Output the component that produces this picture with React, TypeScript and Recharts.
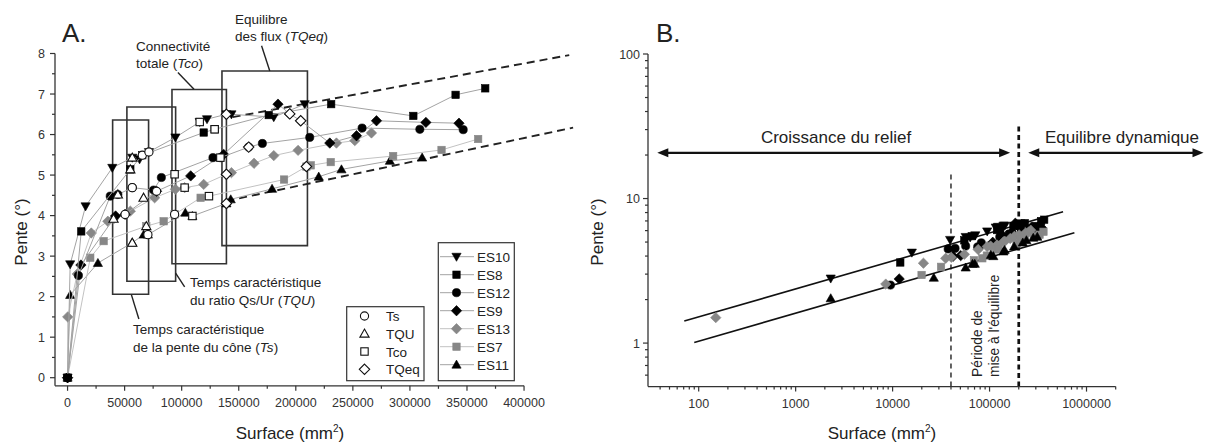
import React from 'react';
import { ComposedChart, Scatter, XAxis, YAxis, ReferenceLine, ReferenceArea } from 'recharts';

type Pair = [number, number];

const es10: Pair[] = [[0, 0], [2300, 2.8], [15800, 4.23], [39200, 5.18], [56700, 5.43], [63100, 5.39], [71300, 5.57], [94500, 5.93], [115800, 6.31], [122200, 6.38], [139200, 6.5], [143600, 6.5], [180700, 6.43], [207800, 6.75]];
const es8: Pair[] = [[0, 0], [12000, 3.61], [55000, 5.14], [65500, 5.49], [119300, 6.05], [128900, 6.13], [176300, 6.48], [231000, 6.75], [303000, 6.46], [340000, 6.98], [366000, 7.14]];
const es12: Pair[] = [[0, 0], [9500, 2.52], [37400, 4.48], [44100, 4.52], [56700, 4.69], [75400, 4.63], [82200, 4.94], [127400, 5.43], [133900, 5.43], [158700, 5.69], [170700, 5.78], [212200, 5.93], [258100, 6.16], [308700, 6.13], [346700, 6.12]];
const es9: Pair[] = [[0, 0], [11700, 2.78], [42100, 3.99], [50400, 4.03], [78000, 4.6], [107900, 4.98], [136800, 5.51], [184400, 6.75], [194700, 6.51], [204300, 6.34], [229800, 5.79], [253200, 5.97], [270700, 6.34], [314000, 6.3], [343000, 6.28]];
const es13: Pair[] = [[0, 0], [150, 1.5], [8500, 2.56], [20800, 3.57], [35300, 3.86], [40300, 3.92], [55000, 4.11], [76300, 4.44], [94500, 4.65], [102600, 4.69], [119300, 4.77], [139200, 5.02], [143600, 5.06], [163400, 5.29], [180700, 5.48], [202000, 5.61], [235600, 5.79], [251700, 5.85], [266300, 6.04]];
const es7: Pair[] = [[0, 0], [19900, 2.96], [31600, 3.37], [69000, 3.74], [84200, 3.86], [93800, 4.03], [116600, 4.44], [123900, 4.48], [189700, 4.89], [209300, 5.21], [213100, 5.24], [230600, 5.32], [285300, 5.47], [327700, 5.62], [359800, 5.89]];
const es11: Pair[] = [[0, 0], [2300, 2.04], [26600, 2.83], [56700, 3.33], [66700, 3.53], [70400, 3.53], [103200, 4.07], [109400, 3.99], [139200, 4.3], [143000, 4.4], [179200, 4.66], [220100, 4.96], [240000, 5.14], [282400, 5.35], [310700, 5.43]];

// temps caractéristiques (symboles ouverts)
const tsPts: Pair[] = [[50400, 4.03], [56700, 4.69], [65500, 5.49], [71300, 5.57], [78000, 4.6], [70400, 3.53], [93800, 4.03]];
const tquPts: Pair[] = [[40300, 3.92], [44100, 4.52], [55000, 5.14], [56700, 5.43], [66600, 4.44], [56700, 3.33], [69000, 3.74]];
const tcoPts: Pair[] = [[93800, 5.02], [102600, 4.69], [109400, 3.99], [115800, 6.31], [123900, 4.48], [128900, 6.13], [133900, 5.43]];
const tqeqPts: Pair[] = [[139200, 6.5], [139200, 5.02], [139200, 4.3], [158700, 5.69], [194700, 6.51], [204300, 6.34], [209300, 5.21]];

// droites en tirets (A)
const trendUpA: Pair[] = [[144700, 6.43], [439600, 7.96]];
const trendLowA: Pair[] = [[139200, 4.36], [443000, 6.17]];

// cadres (A) : [x1, x2, y1, y2]
const boxTs = [39500, 71000, 2.06, 6.36];
const boxTQU = [52000, 94700, 2.38, 6.68];
const boxTco = [91500, 139200, 2.81, 7.11];
const boxTQeq = [135300, 210200, 3.26, 7.57];
const leaderTQeq: Pair[] = [[170000, 8.19], [177200, 7.57]];
const leaderTco: Pair[] = [[96700, 7.53], [110800, 7.12]];
const leaderTQU: Pair[] = [[94700, 2.58], [102600, 2.24]];
const leaderTs: Pair[] = [[55900, 2.05], [62500, 1.45]];

// figure B (log-log)
const regUpB: Pair[] = [[71, 1.42], [573000, 8.1]];
const regLowB: Pair[] = [[90, 1.01], [750000, 5.8]];
const vThinB: Pair[] = [[40000, 0.5], [40000, 14.9]];
const vThickB: Pair[] = [[200000, 0.5], [200000, 32.3]];
const arrowLeftB: Pair[] = [[37.4, 20.7], [163000, 20.7]];
const arrowRightB: Pair[] = [[250800, 20.7], [16100000, 20.7]];

const xTicksA = [0, 25000, 50000, 75000, 100000, 125000, 150000, 175000, 200000, 225000, 250000, 275000, 300000, 325000, 350000, 375000, 400000];
const xMajorA = [0, 50000, 100000, 150000, 200000, 250000, 300000, 350000, 400000];
const yTicksA = [0, 0.5, 1, 1.5, 2, 2.5, 3, 3.5, 4, 4.5, 5, 5.5, 6, 6.5, 7, 7.5, 8];
const yMajorA = [0, 1, 2, 3, 4, 5, 6, 7, 8];
const xTicksB = [40, 50, 60, 70, 80, 90, 100, 200, 300, 400, 500, 600, 700, 800, 900, 1000, 2000, 3000, 4000, 5000, 6000, 7000, 8000, 9000, 10000, 20000, 30000, 40000, 50000, 60000, 70000, 80000, 90000, 100000, 200000, 300000, 400000, 500000, 600000, 700000, 800000, 900000, 1000000, 2000000];
const xMajorB = [100, 1000, 10000, 100000, 1000000];
const yTicksB = [0.6, 0.7, 0.8, 0.9, 1, 2, 3, 4, 5, 6, 7, 8, 9, 10, 20, 30, 40, 50, 60, 70, 80, 90, 100];
const yMajorB = [1, 10, 100];

const FONT = '"Liberation Sans", Arial, sans-serif';
const INK = '#222';
const GREY = '#878787';

const SERIES = [
  { name: 'ES10', data: es10, kind: 'down', fill: '#000', line: '#a3a3a3' },
  { name: 'ES8', data: es8, kind: 'square', fill: '#000', line: '#a3a3a3' },
  { name: 'ES12', data: es12, kind: 'circle', fill: '#000', line: '#a3a3a3' },
  { name: 'ES9', data: es9, kind: 'diamond', fill: '#000', line: '#a3a3a3' },
  { name: 'ES13', data: es13, kind: 'diamond', fill: GREY, line: '#c2c2c2' },
  { name: 'ES7', data: es7, kind: 'square', fill: GREY, line: '#c2c2c2' },
  { name: 'ES11', data: es11, kind: 'up', fill: '#000', line: '#a3a3a3' },
];
// ordre de tracé : ES8 en dernier (carré à l'origine)
const drawOrder = ['ES11', 'ES7', 'ES13', 'ES9', 'ES12', 'ES10', 'ES8'];

const OPEN = [
  { name: 'Ts', data: tsPts, kind: 'circle' },
  { name: 'TQU', data: tquPts, kind: 'up' },
  { name: 'Tco', data: tcoPts, kind: 'square' },
  { name: 'TQeq', data: tqeqPts, kind: 'diamond' },
];

const toPts = (a: Pair[]) => a.map(([x, y]) => ({ x, y }));
const seg = (a: Pair[]) => a.map(([x, y]) => ({ x, y }));

function Mark({ kind, cx, cy, fill, stroke, sw = 0.6 }: any) {
  if (cx == null || cy == null) return <g />;
  const s = 4.6;
  switch (kind) {
    case 'down':
      return <polygon points={`${cx - s},${cy - s * 0.75} ${cx + s},${cy - s * 0.75} ${cx},${cy + s}`} fill={fill} stroke={stroke} strokeWidth={sw} />;
    case 'up':
      return <polygon points={`${cx - s},${cy + s * 0.75} ${cx + s},${cy + s * 0.75} ${cx},${cy - s}`} fill={fill} stroke={stroke} strokeWidth={sw} />;
    case 'square':
      return <rect x={cx - 3.7} y={cy - 3.7} width={7.4} height={7.4} fill={fill} stroke={stroke} strokeWidth={sw} />;
    case 'circle':
      return <circle cx={cx} cy={cy} r={4.1} fill={fill} stroke={stroke} strokeWidth={sw} />;
    default:
      return <polygon points={`${cx},${cy - 5.2} ${cx + 5.2},${cy} ${cx},${cy + 5.2} ${cx - 5.2},${cy}`} fill={fill} stroke={stroke} strokeWidth={sw} />;
  }
}

function AxisTick(props: any) {
  const { x, y, payload, side, majors, fontSize = 12.5, gap = 9 } = props;
  const v = payload.value;
  const major = majors.includes(v);
  const len = major ? 5 : 3;
  if (side === 'bottom') {
    return (
      <g>
        <line x1={x} y1={y} x2={x} y2={y + len} stroke="#333" strokeWidth={1.2} />
        {major && (
          <text x={x} y={y + 21} textAnchor="middle" fontSize={fontSize} fontFamily={FONT} fill="#333">
            {String(v)}
          </text>
        )}
      </g>
    );
  }
  return (
    <g>
      <line x1={x - len} y1={y} x2={x} y2={y} stroke="#333" strokeWidth={1.2} />
      {major && (
        <text x={x - gap} y={y + 4.5} textAnchor="end" fontSize={fontSize} fontFamily={FONT} fill="#333">
          {String(v)}
        </text>
      )}
    </g>
  );
}

const arrowShape = (p: any) => {
  const { x1, y1, x2, y2 } = p;
  const L = 11;
  const W = 4.5;
  return (
    <g>
      <line x1={x1 + L - 1} y1={y1} x2={x2 - L + 1} y2={y2} stroke="#111" strokeWidth={2.2} />
      <polygon points={`${x1},${y1} ${x1 + L},${y1 - W} ${x1 + L},${y1 + W}`} fill="#111" />
      <polygon points={`${x2},${y2} ${x2 - L},${y2 - W} ${x2 - L},${y2 + W}`} fill="#111" />
    </g>
  );
};

function PanelA() {
  const boxes = [boxTs, boxTQU, boxTco, boxTQeq];
  const leaders = [leaderTQeq, leaderTco, leaderTQU, leaderTs];
  return (
    <ComposedChart width={600} height={443} margin={{ top: 53.5, right: 24.6, bottom: 27.2, left: 10 }}>
      <XAxis
        type="number"
        dataKey="x"
        domain={[-11000, 445000]}
        allowDataOverflow
        ticks={xTicksA}
        interval={0}
        height={30}
        axisLine={false}
        tickLine={false}
        tickSize={0}
        tickMargin={0}
        tick={(p: any) => <AxisTick {...p} side="bottom" majors={xMajorA} />}
      />
      <YAxis
        type="number"
        dataKey="y"
        domain={[-0.2, 8]}
        allowDataOverflow
        ticks={yTicksA}
        interval={0}
        width={45}
        axisLine={{ stroke: '#333', strokeWidth: 1.3 }}
        tickLine={false}
        tickSize={0}
        tickMargin={0}
        tick={(p: any) => <AxisTick {...p} side="left" majors={yMajorA} gap={10} />}
      />
      <ReferenceLine segment={[{ x: -11000, y: -0.2 }, { x: 400000, y: -0.2 }]} stroke="#333" strokeWidth={1.3} ifOverflow="visible" />
      {boxes.map((b, i) => (
        <ReferenceArea key={'b' + i} x1={b[0]} x2={b[1]} y1={b[2]} y2={b[3]} fill="none" stroke="#333" strokeWidth={1.6} ifOverflow="visible" />
      ))}
      {leaders.map((l, i) => (
        <ReferenceLine key={'l' + i} segment={seg(l)} stroke="#222" strokeWidth={1.4} ifOverflow="visible" />
      ))}
      {drawOrder.map((n) => {
        const s = SERIES.find((d) => d.name === n)!;
        return (
          <Scatter
            key={n}
            name={n}
            data={toPts(s.data)}
            fill={s.fill}
            line={{ stroke: s.line, strokeWidth: 1 }}
            lineType="joint"
            isAnimationActive={false}
            shape={(p: any) => <Mark kind={s.kind} cx={p.cx} cy={p.cy} fill={s.fill} stroke={s.fill} />}
          />
        );
      })}
      <ReferenceLine segment={seg(trendUpA)} stroke="#222" strokeWidth={1.9} strokeDasharray="8 5" ifOverflow="visible" />
      <ReferenceLine segment={seg(trendLowA)} stroke="#222" strokeWidth={1.9} strokeDasharray="8 5" ifOverflow="visible" />
      {OPEN.map((o) => (
        <Scatter
          key={o.name}
          name={o.name}
          data={toPts(o.data)}
          fill="#fff"
          isAnimationActive={false}
          shape={(p: any) => <Mark kind={o.kind} cx={p.cx} cy={p.cy} fill="#fff" stroke="#111" sw={1.1} />}
        />
      ))}
    </ComposedChart>
  );
}

function PanelB() {
  return (
    <ComposedChart width={645} height={443} margin={{ top: 54, right: 89.3, bottom: 26.4, left: 38 }}>
      <XAxis
        type="number"
        dataKey="x"
        scale="log"
        domain={[30, 2000000]}
        allowDataOverflow
        ticks={xTicksB}
        interval={0}
        height={30}
        axisLine={{ stroke: '#333', strokeWidth: 1.3 }}
        tickLine={false}
        tickSize={0}
        tickMargin={0}
        tick={(p: any) => <AxisTick {...p} side="bottom" majors={xMajorB} />}
      />
      <YAxis
        type="number"
        dataKey="y"
        scale="log"
        domain={[0.5, 100]}
        allowDataOverflow
        ticks={yTicksB}
        interval={0}
        width={50}
        axisLine={{ stroke: '#333', strokeWidth: 1.3 }}
        tickLine={false}
        tickSize={0}
        tickMargin={0}
        tick={(p: any) => <AxisTick {...p} side="left" majors={yMajorB} gap={8} />}
      />
      <ReferenceLine segment={seg(regUpB)} stroke="#111" strokeWidth={1.6} ifOverflow="visible" />
      <ReferenceLine segment={seg(regLowB)} stroke="#111" strokeWidth={1.6} ifOverflow="visible" />
      <ReferenceLine segment={seg(vThinB)} stroke="#111" strokeWidth={1.3} strokeDasharray="5 4" ifOverflow="visible" />
      {SERIES.map((s) => (
        <Scatter
          key={s.name}
          name={s.name}
          data={toPts(s.data.filter(([x]) => x > 0))}
          fill={s.fill}
          isAnimationActive={false}
          shape={(p: any) => <Mark kind={s.kind} cx={p.cx} cy={p.cy} fill={s.fill} stroke={s.fill} />}
        />
      ))}
      <ReferenceLine segment={seg(vThickB)} stroke="#111" strokeWidth={2.7} strokeDasharray="5 3.5" ifOverflow="visible" />
      <ReferenceLine segment={seg(arrowLeftB)} ifOverflow="visible" shape={arrowShape} />
      <ReferenceLine segment={seg(arrowRightB)} ifOverflow="visible" shape={arrowShape} />
    </ComposedChart>
  );
}

function Annotations() {
  const t = { fontFamily: FONT, fill: INK } as const;
  const openLegend = [
    { n: 'Ts', k: 'circle', y: 316 },
    { n: 'TQU', k: 'up', y: 333.7 },
    { n: 'Tco', k: 'square', y: 351.5 },
    { n: 'TQeq', k: 'diamond', y: 369.3 },
  ];
  return (
    <svg width={1205} height={443} style={{ position: 'absolute', left: 0, top: 0, pointerEvents: 'none' }}>
      <g {...t}>
        <text x={62} y={42} fontSize={26}>A.</text>
        <text x={656} y={42} fontSize={26}>B.</text>

        <text transform="translate(27,232) rotate(-90)" textAnchor="middle" fontSize={17}>Pente (°)</text>
        <text transform="translate(603,232) rotate(-90)" textAnchor="middle" fontSize={17}>Pente (°)</text>
        <text x={290} y={439} textAnchor="middle" fontSize={17}>
          Surface (mm<tspan dy={-7} fontSize={10}>2</tspan><tspan dy={7}>)</tspan>
        </text>
        <text x={882} y={439} textAnchor="middle" fontSize={17}>
          Surface (mm<tspan dy={-7} fontSize={10}>2</tspan><tspan dy={7}>)</tspan>
        </text>

        <g fontSize={13.5}>
          <text x={235} y={24}>Equilibre</text>
          <text x={235} y={41}>des flux (<tspan fontStyle="italic">TQeq</tspan>)</text>
          <text x={136} y={51}>Connectivité</text>
          <text x={136} y={68}>totale (<tspan fontStyle="italic">Tco</tspan>)</text>
          <text x={190} y={287}>Temps caractéristique</text>
          <text x={190} y={305}>du ratio Qs/Ur (<tspan fontStyle="italic">TQU</tspan>)</text>
          <text x={133} y={334}>Temps caractéristique</text>
          <text x={133} y={352}>de la pente du cône (<tspan fontStyle="italic">Ts</tspan>)</text>
        </g>

        <rect x={346.7} y={306.7} width={77.3} height={74} fill="#fff" stroke="#333" strokeWidth={1.2} />
        {openLegend.map((e) => (
          <g key={e.n}>
            <Mark kind={e.k} cx={364.5} cy={e.y} fill="#fff" stroke="#111" sw={1.1} />
            <text x={386} y={e.y + 5} fontSize={13.5}>{e.n}</text>
          </g>
        ))}

        <rect x={438.3} y={242.7} width={76} height={138} fill="#fff" stroke="#333" strokeWidth={1.2} />
        {SERIES.map((s, i) => {
          const cy = 256.7 + i * 18;
          return (
            <g key={s.name}>
              <line x1={440} y1={cy} x2={474} y2={cy} stroke={s.line} strokeWidth={1} />
              <Mark kind={s.kind} cx={456.5} cy={cy} fill={s.fill} stroke={s.fill} />
              <text x={477} y={cy + 5} fontSize={13.5}>{s.name}</text>
            </g>
          );
        })}

        <text x={836} y={143} textAnchor="middle" fontSize={17}>Croissance du relief</text>
        <text x={1122} y={143} textAnchor="middle" fontSize={17}>Equilibre dynamique</text>
        <g fontSize={13.8}>
          <text transform="translate(982,377) rotate(-90)">Période de</text>
          <text transform="translate(999,377) rotate(-90)">mise à l'équilibre</text>
        </g>
      </g>
    </svg>
  );
}

export default function App() {
  return (
    <div style={{ position: 'fixed', left: 0, top: 0, width: 1205, height: 443, background: '#fff', overflow: 'hidden', fontFamily: FONT }}>
      <div style={{ position: 'absolute', left: 0, top: 0 }}>
        <PanelA />
      </div>
      <div style={{ position: 'absolute', left: 560, top: 0 }}>
        <PanelB />
      </div>
      <Annotations />
    </div>
  );
}
